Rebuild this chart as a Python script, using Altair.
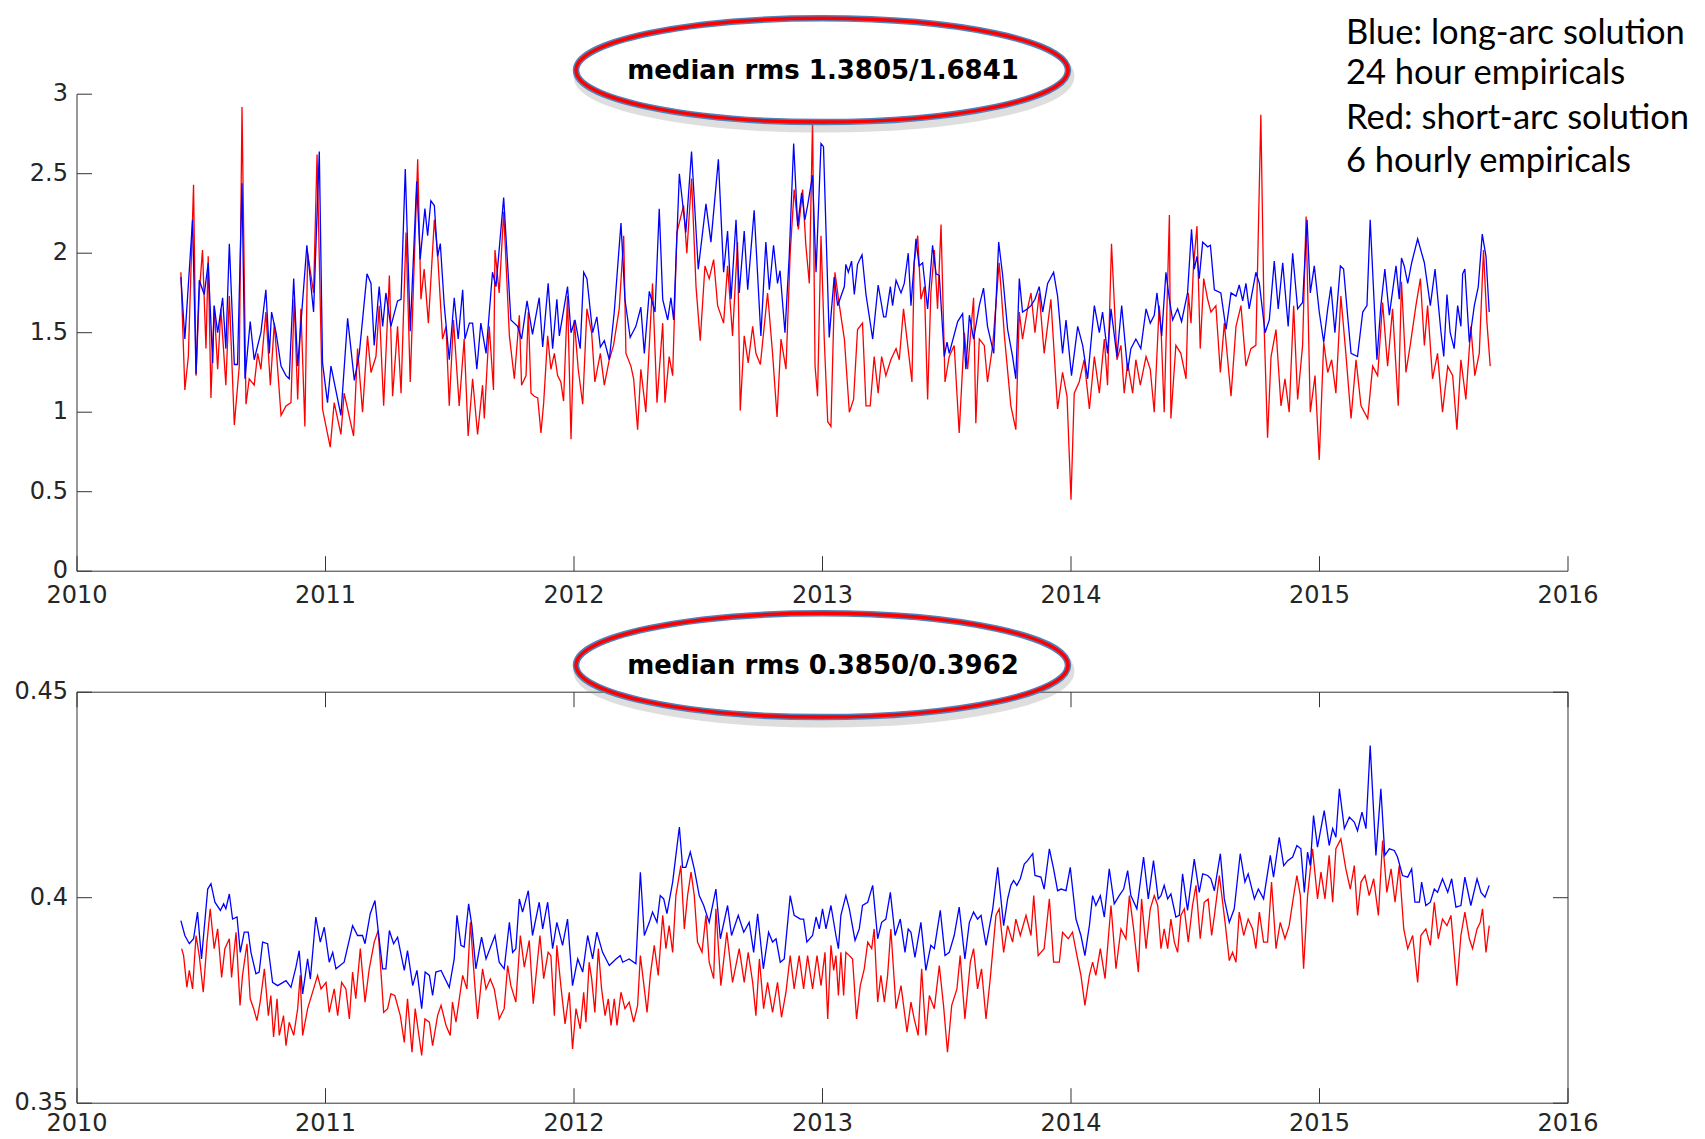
import altair as alt
import pandas as pd

# ---------------- data ----------------
top_blue = [
 (2010.418,1.85),(2010.434,1.46),(2010.465,2.21),(2010.479,1.24),(2010.492,1.83),(2010.512,1.74),(2010.528,1.94),
 (2010.546,1.31),(2010.552,1.67),(2010.566,1.50),(2010.586,1.72),(2010.599,1.40),(2010.613,2.06),(2010.633,1.30),
 (2010.646,1.30),(2010.664,2.44),(2010.676,1.21),(2010.697,1.57),(2010.713,1.33),(2010.740,1.50),(2010.760,1.77),
 (2010.774,1.37),(2010.783,1.63),(2010.801,1.50),(2010.821,1.29),(2010.841,1.23),(2010.854,1.21),(2010.872,1.84),
 (2010.888,1.29),(2010.925,2.05),(2010.952,1.63),(2010.975,2.64),(2010.988,1.31),(2011.008,1.06),(2011.022,1.29),
 (2011.062,0.98),(2011.089,1.59),(2011.116,1.20),(2011.136,1.37),(2011.167,1.87),(2011.183,1.81),(2011.196,1.42),
 (2011.216,1.79),(2011.230,1.54),(2011.243,1.75),(2011.263,1.54),(2011.290,1.70),(2011.304,1.71),(2011.321,2.53),
 (2011.341,1.51),(2011.367,2.45),(2011.381,1.96),(2011.400,2.28),(2011.411,2.11),(2011.424,2.33),(2011.438,2.30),
 (2011.451,1.98),(2011.462,2.06),(2011.478,1.67),(2011.498,1.33),(2011.518,1.72),(2011.534,1.46),(2011.552,1.77),
 (2011.561,1.46),(2011.579,1.56),(2011.592,1.56),(2011.609,1.27),(2011.625,1.56),(2011.646,1.37),(2011.672,1.88),
 (2011.686,1.79),(2011.717,2.35),(2011.746,1.58),(2011.773,1.54),(2011.789,1.46),(2011.811,1.70),(2011.833,1.49),
 (2011.860,1.72),(2011.874,1.41),(2011.896,1.81),(2011.914,1.40),(2011.931,1.71),(2011.941,1.48),(2011.974,1.79),
 (2011.988,1.50),(2012.004,1.58),(2012.025,1.40),(2012.039,1.88),(2012.052,1.84),(2012.075,1.50),(2012.092,1.60),
 (2012.106,1.41),(2012.122,1.45),(2012.142,1.33),(2012.162,1.63),(2012.189,2.19),(2012.205,1.71),(2012.226,1.47),
 (2012.249,1.54),(2012.269,1.66),(2012.283,1.37),(2012.303,1.76),(2012.326,1.63),(2012.343,2.28),(2012.357,1.71),
 (2012.377,1.58),(2012.390,1.72),(2012.401,1.58),(2012.424,2.50),(2012.450,2.13),(2012.473,2.64),(2012.500,1.90),
 (2012.531,2.31),(2012.551,2.07),(2012.581,2.59),(2012.602,1.88),(2012.618,2.14),(2012.632,1.71),(2012.652,2.21),
 (2012.665,1.75),(2012.685,2.14),(2012.699,1.77),(2012.725,2.27),(2012.752,1.48),(2012.772,2.07),(2012.786,1.77),
 (2012.803,2.05),(2012.819,1.81),(2012.829,1.89),(2012.849,1.50),(2012.866,1.98),(2012.884,2.69),(2012.900,2.17),
 (2012.916,2.38),(2012.929,2.21),(2012.940,2.30),(2012.960,2.49),(2012.974,1.88),(2012.994,2.69),(2013.004,2.67),
 (2013.027,1.47),(2013.047,1.85),(2013.061,1.67),(2013.088,1.79),(2013.094,1.93),(2013.104,1.88),(2013.117,1.95),
 (2013.128,1.74),(2013.141,1.93),(2013.159,1.99),(2013.175,1.74),(2013.202,1.46),(2013.224,1.80),(2013.246,1.60),
 (2013.255,1.60),(2013.273,1.79),(2013.282,1.67),(2013.296,1.83),(2013.316,1.75),(2013.329,1.81),(2013.345,2.00),
 (2013.356,1.67),(2013.376,2.09),(2013.389,1.92),(2013.403,1.94),(2013.423,1.65),(2013.443,2.05),(2013.457,1.87),
 (2013.470,1.86),(2013.490,1.35),(2013.501,1.44),(2013.510,1.37),(2013.544,1.57),(2013.564,1.62),(2013.577,1.27),
 (2013.591,1.61),(2013.608,1.46),(2013.631,1.67),(2013.648,1.78),(2013.664,1.54),(2013.689,1.37),(2013.709,2.07),
 (2013.725,1.86),(2013.745,1.52),(2013.765,1.35),(2013.778,1.21),(2013.792,1.84),(2013.805,1.63),(2013.825,1.65),
 (2013.839,1.67),(2013.855,1.71),(2013.872,1.79),(2013.886,1.63),(2013.906,1.81),(2013.930,1.88),(2013.946,1.73),
 (2013.966,1.37),(2013.980,1.58),(2014.002,1.23),(2014.027,1.54),(2014.047,1.42),(2014.067,1.21),(2014.094,1.67),
 (2014.114,1.50),(2014.127,1.63),(2014.147,1.37),(2014.161,1.65),(2014.185,1.35),(2014.204,1.67),(2014.228,1.26),
 (2014.241,1.40),(2014.261,1.46),(2014.281,1.40),(2014.302,1.65),(2014.319,1.56),(2014.335,1.61),(2014.346,1.75),
 (2014.365,1.48),(2014.382,1.88),(2014.396,1.71),(2014.409,1.58),(2014.429,1.65),(2014.445,1.57),(2014.469,1.75),
 (2014.485,2.15),(2014.496,1.90),(2014.507,1.98),(2014.516,1.84),(2014.530,2.07),(2014.550,2.04),(2014.561,2.05),
 (2014.577,1.77),(2014.603,1.75),(2014.624,1.52),(2014.644,1.75),(2014.664,1.73),(2014.677,1.80),(2014.691,1.70),
 (2014.704,1.81),(2014.717,1.65),(2014.744,1.88),(2014.758,1.81),(2014.781,1.50),(2014.798,1.58),(2014.818,1.95),
 (2014.834,1.65),(2014.852,1.94),(2014.874,1.54),(2014.892,2.00),(2014.912,1.65),(2014.932,1.69),(2014.950,2.21),
 (2014.963,1.75),(2014.979,1.92),(2014.999,1.63),(2015.017,1.44),(2015.033,1.65),(2015.046,1.79),(2015.062,1.50),
 (2015.084,1.92),(2015.097,1.90),(2015.113,1.61),(2015.127,1.37),(2015.153,1.35),(2015.174,1.63),(2015.191,1.67),
 (2015.204,2.21),(2015.231,1.33),(2015.247,1.67),(2015.263,1.90),(2015.281,1.61),(2015.308,1.92),(2015.321,1.71),
 (2015.330,1.97),(2015.341,1.92),(2015.355,1.81),(2015.371,1.94),(2015.395,2.09),(2015.422,1.94),(2015.446,1.67),
 (2015.465,1.90),(2015.489,1.50),(2015.500,1.35),(2015.513,1.74),(2015.526,1.50),(2015.542,1.40),(2015.556,1.67),
 (2015.569,1.54),(2015.576,1.87),(2015.585,1.90),(2015.603,1.44),(2015.623,1.67),(2015.639,1.79),(2015.655,2.12),
 (2015.670,1.98),(2015.683,1.63),
]

top_red = [
 (2010.418,1.88),(2010.434,1.14),(2010.448,1.35),(2010.469,2.43),(2010.479,1.23),(2010.492,1.75),(2010.505,2.02),
 (2010.519,1.40),(2010.528,1.98),(2010.539,1.09),(2010.552,1.67),(2010.566,1.27),(2010.579,1.65),(2010.599,1.17),
 (2010.613,1.73),(2010.633,0.92),(2010.653,1.29),(2010.664,2.92),(2010.680,1.05),(2010.693,1.21),(2010.713,1.17),
 (2010.727,1.37),(2010.740,1.27),(2010.760,1.63),(2010.778,1.17),(2010.794,1.56),(2010.821,0.98),(2010.841,1.04),
 (2010.861,1.06),(2010.874,1.71),(2010.888,1.08),(2010.901,1.65),(2010.917,0.91),(2010.928,2.00),(2010.952,1.75),
 (2010.966,2.62),(2010.988,1.02),(2011.019,0.78),(2011.035,1.06),(2011.062,0.86),(2011.075,1.12),(2011.113,0.85),
 (2011.129,1.40),(2011.149,1.00),(2011.169,1.48),(2011.183,1.25),(2011.203,1.35),(2011.216,1.67),(2011.234,1.04),
 (2011.257,1.86),(2011.270,1.10),(2011.290,1.54),(2011.304,1.12),(2011.324,2.13),(2011.341,1.19),(2011.371,2.59),
 (2011.384,1.71),(2011.397,1.90),(2011.414,1.56),(2011.438,2.21),(2011.451,2.00),(2011.471,1.46),(2011.485,1.54),
 (2011.498,1.04),(2011.515,1.58),(2011.538,1.04),(2011.558,1.46),(2011.574,0.85),(2011.592,1.21),(2011.612,0.86),
 (2011.632,1.17),(2011.639,0.96),(2011.659,1.54),(2011.676,1.14),(2011.682,2.02),(2011.699,1.75),(2011.717,2.26),
 (2011.740,1.48),(2011.760,1.21),(2011.780,1.61),(2011.789,1.17),(2011.807,1.23),(2011.816,1.63),(2011.827,1.12),
 (2011.840,1.10),(2011.854,1.09),(2011.867,0.87),(2011.878,1.06),(2011.894,1.48),(2011.907,1.27),(2011.921,1.37),
 (2011.934,1.23),(2011.947,1.19),(2011.958,1.07),(2011.974,1.73),(2011.988,0.83),(2012.001,1.58),(2012.017,1.27),
 (2012.035,1.05),(2012.052,1.65),(2012.071,1.50),(2012.084,1.19),(2012.106,1.37),(2012.122,1.17),(2012.142,1.33),
 (2012.159,1.42),(2012.182,1.65),(2012.200,2.11),(2012.209,1.37),(2012.229,1.29),(2012.240,1.21),(2012.256,0.89),
 (2012.269,1.27),(2012.289,1.00),(2012.316,1.81),(2012.334,1.06),(2012.357,1.56),(2012.366,1.06),(2012.383,1.35),
 (2012.397,1.23),(2012.414,2.13),(2012.441,2.30),(2012.454,2.00),(2012.473,2.47),(2012.491,1.79),(2012.508,1.45),
 (2012.527,1.92),(2012.544,1.84),(2012.562,1.96),(2012.578,1.67),(2012.602,1.56),(2012.618,1.92),(2012.638,1.48),
 (2012.658,2.07),(2012.669,1.01),(2012.685,1.48),(2012.701,1.31),(2012.719,1.54),(2012.732,1.37),(2012.750,1.30),
 (2012.779,1.75),(2012.799,1.37),(2012.817,0.97),(2012.833,1.46),(2012.853,1.27),(2012.870,2.00),(2012.886,2.40),
 (2012.903,2.15),(2012.920,2.40),(2012.933,2.05),(2012.947,1.81),(2012.960,2.84),(2012.970,1.29),(2012.980,1.10),
 (2012.994,2.11),(2013.007,1.46),(2013.021,0.94),(2013.034,0.91),(2013.050,1.88),(2013.068,1.67),(2013.088,1.46),
 (2013.108,1.00),(2013.125,1.08),(2013.141,1.52),(2013.161,1.56),(2013.175,1.04),(2013.192,1.04),(2013.208,1.35),
 (2013.224,1.12),(2013.238,1.35),(2013.255,1.23),(2013.275,1.33),(2013.296,1.40),(2013.309,1.33),(2013.326,1.65),
 (2013.340,1.46),(2013.360,1.19),(2013.369,1.94),(2013.383,2.11),(2013.396,1.71),(2013.410,1.79),(2013.423,1.08),
 (2013.436,1.75),(2013.450,2.02),(2013.463,1.65),(2013.477,2.18),(2013.493,1.19),(2013.510,1.35),(2013.530,1.42),
 (2013.550,0.87),(2013.571,1.50),(2013.584,1.27),(2013.608,1.72),(2013.617,0.93),(2013.631,1.46),(2013.651,1.42),
 (2013.664,1.19),(2013.685,1.42),(2013.711,1.94),(2013.732,1.48),(2013.758,1.04),(2013.778,0.89),(2013.792,1.63),
 (2013.805,1.46),(2013.825,1.65),(2013.839,1.75),(2013.855,1.50),(2013.872,1.75),(2013.892,1.37),(2013.919,1.71),
 (2013.946,1.02),(2013.966,1.25),(2013.984,1.10),(2014.000,0.45),(2014.013,1.12),(2014.033,1.19),(2014.053,1.33),
 (2014.074,1.02),(2014.094,1.35),(2014.114,1.12),(2014.134,1.46),(2014.147,1.17),(2014.163,2.06),(2014.185,1.33),
 (2014.201,1.42),(2014.214,1.12),(2014.228,1.31),(2014.248,1.12),(2014.261,1.33),(2014.279,1.17),(2014.302,1.35),
 (2014.319,1.27),(2014.335,1.00),(2014.355,1.67),(2014.362,1.54),(2014.375,1.00),(2014.396,2.24),(2014.402,0.96),
 (2014.422,1.42),(2014.442,1.37),(2014.463,1.21),(2014.472,1.75),(2014.483,1.56),(2014.493,1.92),(2014.507,2.17),
 (2014.520,1.40),(2014.534,1.84),(2014.550,1.71),(2014.563,1.63),(2014.583,1.67),(2014.601,1.25),(2014.617,1.56),
 (2014.644,1.10),(2014.664,1.54),(2014.684,1.67),(2014.704,1.29),(2014.724,1.40),(2014.744,1.42),(2014.764,2.87),
 (2014.778,1.50),(2014.791,0.84),(2014.805,1.35),(2014.825,1.52),(2014.845,1.04),(2014.861,1.21),(2014.878,1.00),
 (2014.896,1.67),(2014.912,1.08),(2014.932,1.42),(2014.946,2.23),(2014.963,1.00),(2014.982,1.23),(2014.999,0.70),
 (2015.017,1.44),(2015.033,1.25),(2015.049,1.33),(2015.066,1.12),(2015.086,1.73),(2015.106,1.37),(2015.127,0.96),
 (2015.147,1.33),(2015.167,1.04),(2015.194,0.96),(2015.214,1.29),(2015.234,1.23),(2015.254,1.69),(2015.274,1.29),
 (2015.294,1.65),(2015.317,1.04),(2015.330,1.82),(2015.348,1.25),(2015.365,1.42),(2015.388,1.67),(2015.406,1.84),
 (2015.422,1.42),(2015.435,1.67),(2015.455,1.21),(2015.475,1.37),(2015.495,1.00),(2015.516,1.29),(2015.536,1.23),
 (2015.553,0.89),(2015.569,1.33),(2015.589,1.08),(2015.609,1.54),(2015.625,1.23),(2015.643,1.37),(2015.660,2.02),
 (2015.674,1.56),(2015.687,1.29),
]

bot_blue = [
 (2010.418,.3944),(2010.434,.3908),(2010.452,.3888),(2010.469,.3900),(2010.485,.3965),(2010.501,.3851),(2010.526,.4021),
 (2010.539,.4034),(2010.555,.3989),(2010.577,.3969),(2010.590,.3985),(2010.599,.3973),(2010.613,.4009),(2010.626,.3948),
 (2010.644,.3953),(2010.657,.3867),(2010.673,.3916),(2010.689,.3916),(2010.700,.3867),(2010.720,.3815),(2010.733,.3819),
 (2010.747,.3892),(2010.767,.3888),(2010.787,.3794),(2010.807,.3786),(2010.841,.3798),(2010.861,.3782),(2010.881,.3831),
 (2010.894,.3871),(2010.908,.3766),(2010.928,.3851),(2010.939,.3802),(2010.961,.3953),(2010.979,.3892),(2010.995,.3928),
 (2011.015,.3843),(2011.029,.3867),(2011.042,.3827),(2011.075,.3843),(2011.109,.3932),(2011.129,.3908),(2011.149,.3908),
 (2011.159,.3888),(2011.180,.3961),(2011.199,.3993),(2011.212,.3920),(2011.230,.3827),(2011.243,.3827),(2011.257,.3920),
 (2011.274,.3888),(2011.290,.3904),(2011.317,.3823),(2011.330,.3871),(2011.351,.3786),(2011.368,.3823),(2011.387,.3730),
 (2011.401,.3819),(2011.418,.3811),(2011.431,.3762),(2011.444,.3819),(2011.465,.3823),(2011.498,.3782),(2011.518,.3851),
 (2011.529,.3957),(2011.545,.3884),(2011.558,.3880),(2011.576,.3985),(2011.589,.3932),(2011.605,.3827),(2011.628,.3904),
 (2011.646,.3851),(2011.682,.3908),(2011.699,.3843),(2011.719,.3827),(2011.740,.3940),(2011.753,.3867),(2011.766,.3876),
 (2011.780,.3997),(2011.793,.3965),(2011.816,.4017),(2011.833,.3908),(2011.860,.3989),(2011.874,.3924),(2011.894,.3989),
 (2011.914,.3876),(2011.931,.3940),(2011.954,.3884),(2011.974,.3948),(2011.994,.3786),(2012.015,.3851),(2012.035,.3819),
 (2012.055,.3908),(2012.075,.3851),(2012.092,.3916),(2012.115,.3867),(2012.142,.3835),(2012.169,.3851),(2012.186,.3859),
 (2012.196,.3843),(2012.222,.3851),(2012.249,.3839),(2012.267,.4062),(2012.283,.3908),(2012.303,.3940),(2012.316,.3965),
 (2012.334,.3940),(2012.347,.4005),(2012.361,.3997),(2012.374,.3961),(2012.397,.4038),(2012.410,.4103),(2012.424,.4172),
 (2012.437,.4074),(2012.450,.4074),(2012.468,.4111),(2012.484,.4070),(2012.504,.4005),(2012.522,.3981),(2012.544,.3940),
 (2012.571,.4021),(2012.589,.3900),(2012.618,.3981),(2012.634,.3908),(2012.661,.3957),(2012.683,.3916),(2012.705,.3940),
 (2012.723,.3867),(2012.739,.3961),(2012.762,.3827),(2012.783,.3916),(2012.799,.3892),(2012.813,.3900),(2012.830,.3843),
 (2012.846,.3851),(2012.870,.4005),(2012.886,.3957),(2012.911,.3948),(2012.924,.3948),(2012.937,.3892),(2012.960,.3908),
 (2012.974,.3953),(2012.987,.3924),(2013.000,.3973),(2013.014,.3924),(2013.034,.3981),(2013.054,.3908),(2013.064,.3876),
 (2013.074,.3957),(2013.094,.4005),(2013.108,.3973),(2013.131,.3896),(2013.148,.3924),(2013.161,.3981),(2013.182,.3989),
 (2013.202,.4030),(2013.222,.3900),(2013.238,.3940),(2013.255,.3948),(2013.273,.4013),(2013.292,.3908),(2013.313,.3948),
 (2013.332,.3867),(2013.345,.3924),(2013.356,.3916),(2013.372,.3855),(2013.396,.3940),(2013.416,.3823),(2013.436,.3884),
 (2013.450,.3876),(2013.474,.3969),(2013.493,.3859),(2013.510,.3867),(2013.530,.3908),(2013.550,.3977),(2013.573,.3851),
 (2013.591,.3940),(2013.608,.3965),(2013.624,.3948),(2013.638,.3957),(2013.658,.3884),(2013.685,.3973),(2013.705,.4074),
 (2013.729,.3932),(2013.745,.3997),(2013.758,.4030),(2013.769,.4042),(2013.782,.4030),(2013.796,.4046),(2013.812,.4082),
 (2013.825,.4090),(2013.846,.4107),(2013.855,.4054),(2013.879,.4050),(2013.892,.4021),(2013.913,.4119),(2013.930,.4070),
 (2013.946,.4017),(2013.960,.4021),(2013.980,.4017),(2013.997,.4074),(2014.020,.3948),(2014.040,.3908),(2014.056,.3859),
 (2014.074,.3932),(2014.087,.4005),(2014.100,.3981),(2014.118,.4005),(2014.134,.3953),(2014.154,.4070),(2014.174,.3985),
 (2014.194,.4005),(2014.212,.4021),(2014.228,.4066),(2014.241,.4005),(2014.265,.3973),(2014.292,.4099),(2014.311,.3997),
 (2014.332,.4090),(2014.351,.3997),(2014.362,.4005),(2014.375,.4030),(2014.389,.3997),(2014.402,.4009),(2014.422,.3953),
 (2014.436,.3957),(2014.449,.4058),(2014.469,.3969),(2014.496,.4094),(2014.516,.4013),(2014.530,.4058),(2014.550,.4054),
 (2014.563,.4046),(2014.577,.4017),(2014.601,.4107),(2014.617,.3997),(2014.637,.3940),(2014.657,.3973),(2014.681,.4107),
 (2014.700,.4038),(2014.713,.4058),(2014.738,.3997),(2014.754,.4021),(2014.775,.3997),(2014.802,.4103),(2014.815,.4050),
 (2014.838,.4147),(2014.856,.4078),(2014.872,.4090),(2014.892,.4099),(2014.909,.4127),(2014.925,.4119),(2014.939,.4013),
 (2014.952,.4111),(2014.963,.4078),(2014.976,.4200),(2014.992,.4123),(2015.019,.4212),(2015.039,.4127),(2015.053,.4168),
 (2015.066,.4147),(2015.080,.4265),(2015.100,.4168),(2015.120,.4196),(2015.140,.4184),(2015.153,.4163),(2015.171,.4208),
 (2015.187,.4168),(2015.204,.4370),(2015.227,.4103),(2015.247,.4265),(2015.263,.4103),(2015.281,.4119),(2015.301,.4115),
 (2015.314,.4099),(2015.334,.4054),(2015.355,.4050),(2015.371,.4070),(2015.384,.3989),(2015.402,.3989),(2015.411,.4038),
 (2015.428,.3981),(2015.446,.3989),(2015.462,.4021),(2015.475,.4013),(2015.495,.4046),(2015.516,.4013),(2015.532,.4046),
 (2015.549,.3977),(2015.569,.3981),(2015.585,.4050),(2015.609,.3981),(2015.634,.4046),(2015.650,.4013),(2015.666,.4001),
 (2015.683,.4030),
]

bot_red = [
 (2010.421,.3876),(2010.429,.3859),(2010.442,.3782),(2010.452,.3823),(2010.465,.3778),(2010.479,.3908),(2010.492,.3859),
 (2010.508,.3770),(2010.523,.3892),(2010.536,.3973),(2010.552,.3876),(2010.566,.3924),(2010.582,.3806),(2010.595,.3876),
 (2010.613,.3900),(2010.622,.3806),(2010.640,.3916),(2010.656,.3738),(2010.666,.3811),(2010.684,.3888),(2010.697,.3754),
 (2010.711,.3730),(2010.724,.3701),(2010.737,.3746),(2010.754,.3827),(2010.770,.3713),(2010.780,.3762),(2010.791,.3661),
 (2010.805,.3754),(2010.814,.3665),(2010.831,.3713),(2010.841,.3640),(2010.854,.3697),(2010.872,.3665),(2010.888,.3730),
 (2010.898,.3811),(2010.908,.3665),(2010.928,.3730),(2010.952,.3778),(2010.968,.3811),(2010.982,.3778),(2011.002,.3794),
 (2011.015,.3721),(2011.035,.3778),(2011.049,.3713),(2011.065,.3794),(2011.082,.3778),(2011.096,.3705),(2011.109,.3819),
 (2011.122,.3754),(2011.140,.3876),(2011.159,.3746),(2011.176,.3827),(2011.196,.3892),(2011.212,.3920),(2011.234,.3721),
 (2011.250,.3730),(2011.263,.3766),(2011.279,.3762),(2011.301,.3713),(2011.317,.3648),(2011.330,.3754),(2011.348,.3624),
 (2011.361,.3730),(2011.387,.3616),(2011.400,.3705),(2011.418,.3697),(2011.431,.3640),(2011.451,.3713),(2011.465,.3738),
 (2011.485,.3689),(2011.502,.3665),(2011.511,.3746),(2011.525,.3697),(2011.552,.3811),(2011.569,.3778),(2011.583,.3940),
 (2011.601,.3786),(2011.612,.3705),(2011.632,.3827),(2011.646,.3778),(2011.663,.3802),(2011.679,.3778),(2011.699,.3705),
 (2011.719,.3730),(2011.733,.3835),(2011.746,.3786),(2011.766,.3746),(2011.784,.3908),(2011.800,.3831),(2011.820,.3896),
 (2011.836,.3742),(2011.863,.3908),(2011.878,.3803),(2011.896,.3867),(2011.907,.3859),(2011.921,.3713),(2011.931,.3884),
 (2011.947,.3786),(2011.964,.3693),(2011.981,.3770),(2011.994,.3632),(2012.008,.3730),(2012.025,.3681),(2012.039,.3770),
 (2012.048,.3697),(2012.061,.3843),(2012.071,.3803),(2012.084,.3721),(2012.098,.3876),(2012.111,.3778),(2012.125,.3713),
 (2012.138,.3754),(2012.149,.3689),(2012.162,.3754),(2012.173,.3689),(2012.189,.3770),(2012.205,.3730),(2012.222,.3746),
 (2012.240,.3697),(2012.256,.3738),(2012.267,.3859),(2012.280,.3794),(2012.294,.3721),(2012.307,.3811),(2012.323,.3884),
 (2012.339,.3811),(2012.357,.3957),(2012.370,.3876),(2012.383,.3932),(2012.397,.3867),(2012.410,.4005),(2012.430,.4078),
 (2012.444,.3924),(2012.457,.4005),(2012.471,.4062),(2012.484,.4005),(2012.497,.3892),(2012.515,.3867),(2012.531,.3957),
 (2012.544,.3843),(2012.562,.3803),(2012.571,.3973),(2012.591,.3786),(2012.615,.3916),(2012.638,.3794),(2012.665,.3876),
 (2012.685,.3794),(2012.701,.3867),(2012.719,.3794),(2012.732,.3713),(2012.746,.3851),(2012.763,.3730),(2012.779,.3794),
 (2012.799,.3721),(2012.819,.3794),(2012.835,.3709),(2012.853,.3770),(2012.870,.3859),(2012.886,.3778),(2012.906,.3859),
 (2012.924,.3778),(2012.940,.3859),(2012.960,.3778),(2012.978,.3859),(2012.994,.3786),(2013.010,.3867),(2013.021,.3705),
 (2013.034,.3884),(2013.045,.3823),(2013.054,.3859),(2013.064,.3762),(2013.074,.3867),(2013.085,.3762),(2013.094,.3867),
 (2013.108,.3859),(2013.121,.3851),(2013.137,.3705),(2013.152,.3786),(2013.168,.3827),(2013.182,.3892),(2013.198,.3876),
 (2013.208,.3924),(2013.222,.3746),(2013.235,.3811),(2013.249,.3746),(2013.262,.3811),(2013.275,.3924),(2013.296,.3730),
 (2013.316,.3786),(2013.340,.3673),(2013.356,.3746),(2013.369,.3705),(2013.385,.3665),(2013.399,.3827),(2013.416,.3665),
 (2013.430,.3762),(2013.450,.3730),(2013.470,.3835),(2013.487,.3738),(2013.503,.3624),(2013.520,.3738),(2013.541,.3778),
 (2013.554,.3859),(2013.573,.3705),(2013.595,.3843),(2013.608,.3876),(2013.624,.3778),(2013.640,.3827),(2013.658,.3705),
 (2013.675,.3803),(2013.698,.3957),(2013.711,.3973),(2013.729,.3867),(2013.745,.3932),(2013.765,.3892),(2013.778,.3948),
 (2013.796,.3908),(2013.819,.3957),(2013.839,.3908),(2013.850,.4005),(2013.868,.3859),(2013.892,.3876),(2013.913,.3997),
 (2013.930,.3843),(2013.953,.3843),(2013.966,.3916),(2013.989,.3900),(2014.006,.3916),(2014.024,.3859),(2014.040,.3811),
 (2014.056,.3738),(2014.074,.3811),(2014.087,.3843),(2014.100,.3811),(2014.118,.3876),(2014.137,.3803),(2014.161,.3981),
 (2014.181,.3827),(2014.201,.3924),(2014.221,.3900),(2014.235,.4005),(2014.252,.3924),(2014.271,.3819),(2014.284,.3997),
 (2014.302,.3876),(2014.319,.3973),(2014.335,.4005),(2014.349,.3981),(2014.362,.3876),(2014.375,.3924),(2014.389,.3876),
 (2014.402,.3948),(2014.416,.3892),(2014.429,.3867),(2014.442,.3957),(2014.456,.3973),(2014.472,.3892),(2014.489,.3981),
 (2014.503,.4030),(2014.520,.3900),(2014.536,.3989),(2014.552,.3997),(2014.566,.3908),(2014.579,.3965),(2014.597,.4054),
 (2014.620,.3940),(2014.637,.3847),(2014.650,.3867),(2014.664,.3843),(2014.677,.3965),(2014.695,.3908),(2014.713,.3948),
 (2014.731,.3924),(2014.744,.3876),(2014.758,.3965),(2014.775,.3892),(2014.791,.3892),(2014.807,.4038),(2014.825,.3876),
 (2014.842,.3940),(2014.861,.3900),(2014.878,.3932),(2014.892,.3989),(2014.909,.4054),(2014.923,.4005),(2014.936,.3827),
 (2014.952,.4005),(2014.972,.4119),(2014.992,.3997),(2015.006,.4062),(2015.022,.3997),(2015.039,.4103),(2015.053,.3989),
 (2015.066,.4119),(2015.086,.4143),(2015.106,.4070),(2015.124,.4021),(2015.140,.4078),(2015.153,.3957),(2015.167,.4038),
 (2015.183,.4054),(2015.200,.4005),(2015.218,.4046),(2015.237,.3957),(2015.254,.4139),(2015.271,.4013),(2015.288,.4070),
 (2015.304,.3989),(2015.321,.4078),(2015.339,.3924),(2015.355,.3876),(2015.375,.3908),(2015.395,.3794),(2015.408,.3908),
 (2015.428,.3924),(2015.446,.3884),(2015.462,.3989),(2015.478,.3900),(2015.495,.3948),(2015.513,.3932),(2015.529,.3957),
 (2015.553,.3786),(2015.569,.3908),(2015.585,.3965),(2015.603,.3900),(2015.616,.3876),(2015.634,.3924),(2015.647,.3940),
 (2015.656,.3973),(2015.670,.3867),(2015.683,.3932),
]

year_ticks = [2010, 2011, 2012, 2013, 2014, 2015, 2016]
year_labels = ["2010", "2011", "2012", "2013", "2014", "2015", "2016"]
top_y_ticks = [0, 0.5, 1, 1.5, 2, 2.5, 3]
top_y_labels = ["0", "0.5", "1", "1.5", "2", "2.5", "3"]
bot_y_ticks = [0.35, 0.4, 0.45]
bot_y_labels = ["0.35", "0.4", "0.45"]
top_label = "median rms 1.3805/1.6841"
bot_label = "median rms 0.3850/0.3962"
legend_lines = ["Blue: long-arc solution", "24 hour empiricals",
                "Red: short-arc solution", "6 hourly empiricals"]

# ---------------- layout constants ----------------
W = 1491
H1 = 477
H2 = 411
TICK = 15
AXC = "#333333"
LABC = "#262626"
ELL = "M -1 0 A 1 0.211 0 1 1 1 0 A 1 0.211 0 1 1 -1 0 Z"
ELL_SIZE = 492 ** 2
ONE = pd.DataFrame({"a": [0]})


def df_of(pairs):
    return pd.DataFrame({"t": [p[0] for p in pairs], "v": [p[1] for p in pairs]})


def panel(blue, red, ydom, yticks, ylabels, h, label, ell_y, text_y, boxed, xlab_y, extra=()):
    xs = alt.Scale(domain=[2010, 2016], nice=False, zero=False)
    ys = alt.Scale(domain=ydom, nice=False, zero=False)
    X = lambda f: alt.X(f, scale=xs, axis=None)
    Y = lambda f: alt.Y(f, scale=ys, axis=None)

    yt = pd.DataFrame({"v": yticks, "lab": ylabels})
    xt = pd.DataFrame({"t": year_ticks, "lab": year_labels})
    layers = []
    if boxed:
        layers.append(alt.Chart(ONE).mark_rect(fillOpacity=0, stroke=AXC, strokeWidth=1).encode(
            x=alt.value(0), x2=alt.value(W), y=alt.value(0), y2=alt.value(h)))
    else:
        layers.append(alt.Chart(ONE).mark_rule(color=AXC, strokeWidth=1).encode(
            x=alt.value(0), y=alt.value(0), y2=alt.value(h)))
        layers.append(alt.Chart(ONE).mark_rule(color=AXC, strokeWidth=1).encode(
            x=alt.value(0), x2=alt.value(W), y=alt.value(h)))

    layers.append(alt.Chart(df_of(red)).mark_line(color="#ff0000", strokeWidth=1.3).encode(
        x=X("t:Q"), y=Y("v:Q")))
    layers.append(alt.Chart(df_of(blue)).mark_line(color="#0000ff", strokeWidth=1.3).encode(
        x=X("t:Q"), y=Y("v:Q")))

    # inward ticks
    layers.append(alt.Chart(yt).mark_rule(color=AXC).encode(
        y=Y("v:Q"), x=alt.value(0), x2=alt.value(TICK)))
    layers.append(alt.Chart(xt).mark_rule(color=AXC).encode(
        x=X("t:Q"), y=alt.value(h), y2=alt.value(h - TICK)))
    if boxed:
        layers.append(alt.Chart(yt).mark_rule(color=AXC).encode(
            y=Y("v:Q"), x=alt.value(W - TICK), x2=alt.value(W)))
        layers.append(alt.Chart(xt).mark_rule(color=AXC).encode(
            x=X("t:Q"), y=alt.value(0), y2=alt.value(TICK)))

    # tick labels
    layers.append(alt.Chart(yt).mark_text(font="DejaVu Sans", fontSize=24, color=LABC,
                                          align="right", baseline="middle").encode(
        y=Y("v:Q"), x=alt.value(-9), text="lab:N"))
    layers.append(alt.Chart(xt).mark_text(font="DejaVu Sans", fontSize=24, color=LABC,
                                          align="center", baseline="middle").encode(
        x=X("t:Q"), y=alt.value(xlab_y), text="lab:N"))

    # annotation ellipse with shadow, blue edge and red ring
    cx = 745
    layers.append(alt.Chart(ONE).mark_point(shape=ELL, size=ELL_SIZE, filled=False, color="#808080",
                                            strokeWidth=9, opacity=0.25).encode(
        x=alt.value(cx + 2), y=alt.value(ell_y + 6)))
    layers.append(alt.Chart(ONE).mark_point(shape=ELL, size=ELL_SIZE, filled=True, color="white",
                                            fillOpacity=1, opacity=1, stroke="#4f81bd",
                                            strokeWidth=6.5).encode(
        x=alt.value(cx), y=alt.value(ell_y)))
    layers.append(alt.Chart(ONE).mark_point(shape=ELL, size=ELL_SIZE, filled=False, color="#ff0000",
                                            opacity=1, strokeWidth=3.5).encode(
        x=alt.value(cx), y=alt.value(ell_y)))
    layers.append(alt.Chart(pd.DataFrame({"label": [label]})).mark_text(
        font="DejaVu Sans", fontWeight="bold", fontSize=26, color="black", align="center",
        baseline="alphabetic").encode(text="label:N", x=alt.value(cx + 1), y=alt.value(text_y)))
    layers.extend(extra)
    return alt.layer(*layers).properties(width=W, height=h)


legend_y = [-50, -10, 34.5, 78]
legend = [
    alt.Chart(pd.DataFrame({"label": [txt]})).mark_text(
        font="Lato", fontSize=34.5, color="black", align="left", baseline="alphabetic"
    ).encode(text="label:N", x=alt.value(1269), y=alt.value(yy))
    for txt, yy in zip(legend_lines, legend_y)
]

top = panel(top_blue, top_red, [0, 3], top_y_ticks, top_y_labels, H1, top_label,
            -24, -15, False, H1 + 25, legend)
bottom = panel(bot_blue, bot_red, [0.35, 0.45], bot_y_ticks, bot_y_labels, H2, bot_label,
               -27, -18, True, H2 + 21)

chart = alt.vconcat(top, bottom, spacing=121, bounds="flush").properties(
    padding={"left": 6, "top": -2.8, "right": 5, "bottom": 0}, background="white"
).configure_view(strokeWidth=0)

chart.save("out.html", embed_options={"renderer": "svg", "actions": False})
